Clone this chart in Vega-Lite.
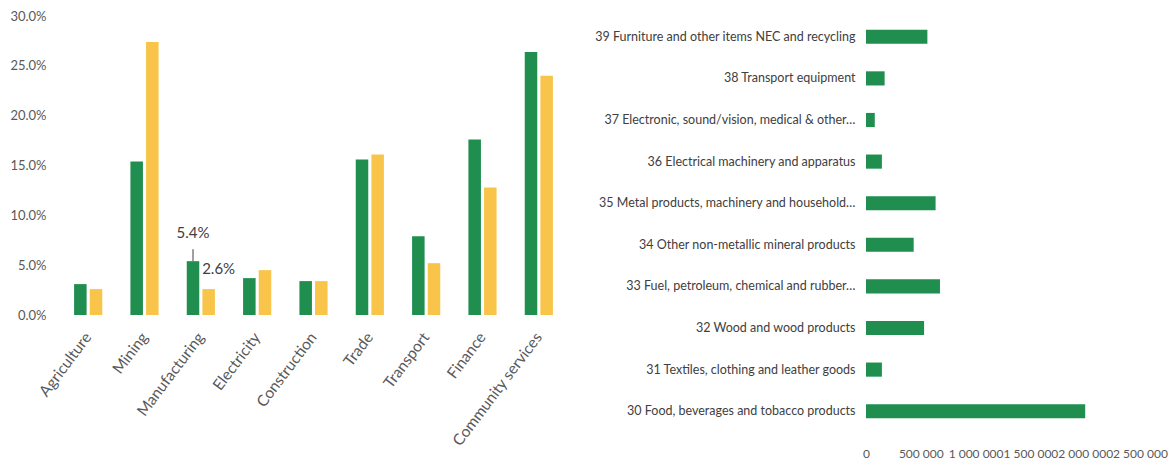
{
  "$schema": "https://vega.github.io/schema/vega-lite/v6.json",
  "background": "white",
  "padding": {"left": 5, "top": 10, "right": 5, "bottom": 5},
  "spacing": 9,
  "config": {
    "view": {"stroke": null},
    "font": "Lato",
    "axis": {"grid": false, "ticks": false, "domain": false, "title": null, "labelFont": "Lato"},
    "text": {"font": "Lato"}
  },
  "hconcat": [
    {
      "width": 507,
      "height": 299,
      "data": {
        "values": [
          {"sector": "Agriculture", "series": "Series 1", "share": 0.031},
          {"sector": "Agriculture", "series": "Series 2", "share": 0.026},
          {"sector": "Mining", "series": "Series 1", "share": 0.154},
          {"sector": "Mining", "series": "Series 2", "share": 0.274},
          {"sector": "Manufacturing", "series": "Series 1", "share": 0.054},
          {"sector": "Manufacturing", "series": "Series 2", "share": 0.026},
          {"sector": "Electricity", "series": "Series 1", "share": 0.037},
          {"sector": "Electricity", "series": "Series 2", "share": 0.045},
          {"sector": "Construction", "series": "Series 1", "share": 0.034},
          {"sector": "Construction", "series": "Series 2", "share": 0.034},
          {"sector": "Trade", "series": "Series 1", "share": 0.156},
          {"sector": "Trade", "series": "Series 2", "share": 0.161},
          {"sector": "Transport", "series": "Series 1", "share": 0.079},
          {"sector": "Transport", "series": "Series 2", "share": 0.052},
          {"sector": "Finance", "series": "Series 1", "share": 0.176},
          {"sector": "Finance", "series": "Series 2", "share": 0.128},
          {"sector": "Community services", "series": "Series 1", "share": 0.264},
          {"sector": "Community services", "series": "Series 2", "share": 0.240}
        ]
      },
      "layer": [
        {
          "mark": {"type": "bar"},
          "encoding": {
            "x": {
              "field": "sector", "type": "nominal", "sort": null,
              "scale": {"paddingInner": 0.5, "paddingOuter": 0.25},
              "axis": {"labelAngle": -53, "labelFontSize": 15.5, "labelColor": "#595959", "labelPadding": 19}
            },
            "xOffset": {"field": "series", "type": "nominal", "scale": {"paddingInner": 0.2}},
            "y": {
              "field": "share", "type": "quantitative",
              "scale": {"domain": [0, 0.3], "nice": false},
              "axis": {"format": ".1%", "values": [0, 0.05, 0.1, 0.15, 0.2, 0.25, 0.3], "labelFontSize": 13, "labelColor": "#595959", "labelPadding": 14, "minExtent": 55, "maxExtent": 55}
            },
            "color": {"field": "series", "type": "nominal", "scale": {"domain": ["Series 1", "Series 2"], "range": ["#1F8E4F", "#F8C54A"]}, "legend": null}
          }
        },
        {
          "transform": [{"filter": "datum.sector == 'Manufacturing' && datum.series == 'Series 1'"}],
          "mark": {"type": "rule", "color": "#404040", "strokeWidth": 1, "y2Offset": -12},
          "encoding": {
            "x": {"field": "sector", "type": "nominal", "sort": null},
            "xOffset": {"field": "series", "type": "nominal"},
            "y": {"field": "share", "type": "quantitative"},
            "y2": {"field": "share"}
          }
        },
        {
          "transform": [{"filter": "datum.sector == 'Manufacturing' && datum.series == 'Series 1'"}],
          "mark": {"type": "text", "fontSize": 15, "color": "#404040", "dy": -28},
          "encoding": {
            "x": {"field": "sector", "type": "nominal", "sort": null},
            "xOffset": {"field": "series", "type": "nominal"},
            "y": {"field": "share", "type": "quantitative"},
            "text": {"field": "share", "type": "quantitative", "format": ".1%"}
          }
        },
        {
          "transform": [{"filter": "datum.sector == 'Manufacturing' && datum.series == 'Series 2'"}],
          "mark": {"type": "text", "fontSize": 15, "color": "#404040", "dx": 10, "dy": -20},
          "encoding": {
            "x": {"field": "sector", "type": "nominal", "sort": null},
            "xOffset": {"field": "series", "type": "nominal"},
            "y": {"field": "share", "type": "quantitative"},
            "text": {"field": "share", "type": "quantitative", "format": ".1%"}
          }
        }
      ]
    },
    {
      "width": 274,
      "height": 416,
      "data": {
        "values": [
          {"industry": "30 Food, beverages and tobacco products", "output": 2000000},
          {"industry": "31 Textiles, clothing and leather goods", "output": 145000},
          {"industry": "32 Wood and wood products", "output": 530000},
          {"industry": "33 Fuel, petroleum, chemical and rubber…", "output": 675000},
          {"industry": "34 Other non-metallic mineral products", "output": 435000},
          {"industry": "35 Metal products, machinery and household…", "output": 635000},
          {"industry": "36 Electrical machinery and apparatus", "output": 145000},
          {"industry": "37 Electronic, sound/vision, medical & other…", "output": 80000},
          {"industry": "38 Transport equipment", "output": 170000},
          {"industry": "39 Furniture and other items NEC and recycling", "output": 560000}
        ]
      },
      "mark": {"type": "bar", "color": "#1F8E4F"},
      "encoding": {
        "y": {
          "field": "industry", "type": "nominal", "sort": "descending",
          "scale": {"paddingInner": 0.66, "paddingOuter": 0.33},
          "axis": {"labelPadding": 11, "labelFontSize": 12.5, "labelColor": "#404040", "labelLimit": 300, "minExtent": 290, "maxExtent": 290}
        },
        "x": {
          "field": "output", "type": "quantitative",
          "scale": {"domain": [0, 2500000], "nice": false},
          "axis": {
            "values": [0, 500000, 1000000, 1500000, 2000000, 2500000],
            "labelExpr": "replace(replace(format(datum.value, ','), ',', ' '), ',', ' ')",
            "labelPadding": 16, "labelFontSize": 12, "labelColor": "#595959", "labelOverlap": false, "labelFlush": false, "labelBound": false
          }
        }
      }
    }
  ]
}
